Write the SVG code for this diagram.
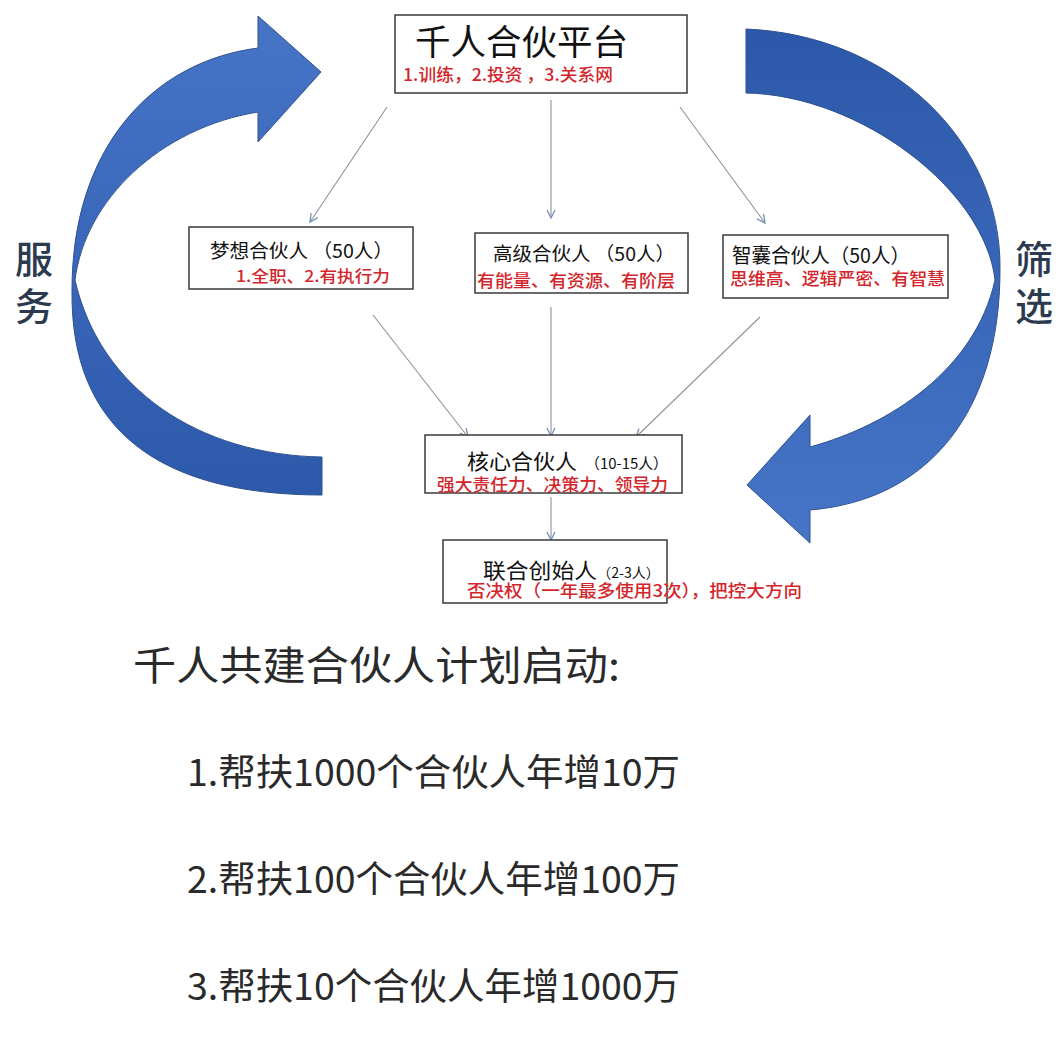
<svg xmlns="http://www.w3.org/2000/svg" width="1058" height="1048" viewBox="0 0 1058 1048">
<style>
.box{fill:#fff;stroke:#3a3a3a;stroke-width:1.5}
.t{font-family:"Noto Sans CJK SC","Noto Sans",sans-serif;fill:#111}
.r{font-family:"Noto Sans CJK SC","Noto Sans",sans-serif;fill:#d3262c;font-weight:500}
.side{font-family:"Noto Sans CJK SC","Noto Sans",sans-serif;fill:#2b3a4e;font-size:38px;text-anchor:middle;font-weight:500}
.big{font-family:"Noto Sans CJK SC","Noto Sans",sans-serif;fill:#2a2a2a}
.c{stroke:#8c939c;stroke-width:1.1;fill:none;marker-end:url(#ah)}
.band{stroke:#2f528f;stroke-width:1}
</style>
<defs>
<marker id="ah" viewBox="0 0 10 10" refX="9" refY="5" markerWidth="10" markerHeight="10" markerUnits="userSpaceOnUse" orient="auto">
<path d="M1,1 L9,5 L1,9" fill="none" stroke="#7391b3" stroke-width="1.3"/>
</marker>
<linearGradient id="gl" x1="0" y1="16" x2="0" y2="497" gradientUnits="userSpaceOnUse">
<stop offset="0" stop-color="#4674c6"/>
<stop offset="1" stop-color="#2d59ab"/>
</linearGradient>
<linearGradient id="gr" x1="0" y1="29" x2="0" y2="543" gradientUnits="userSpaceOnUse">
<stop offset="0" stop-color="#2c58a9"/>
<stop offset="1" stop-color="#4675c7"/>
</linearGradient>
</defs>
<rect width="1058" height="1048" fill="#fff"/>

<g id="arrow-service">
<path class="band" fill="url(#gl)" d="M258,48 C150,62 72,150 72,290 C70,430 160,495 322,495 L322,457 C200,455 100,390 75,280 C85,200 160,128 258,112 L258,142 L321,72 L258,16 Z"/>
<text class="side" x="34" y="273">服</text>
<text class="side" x="34" y="320">务</text>
</g>

<g id="arrow-filter">
<path class="band" fill="url(#gr)" d="M746,29 C890,35 1002,140 1000,270 C1000,410 930,500 810,510 L810,543 L747,485 L810,415 L810,447 C890,425 975,370 995,280 C985,190 860,95 746,93 Z"/>
<text class="side" x="1034" y="273">筛</text>
<text class="side" x="1034" y="320">选</text>
</g>

<g id="connectors">
<line class="c" x1="387" y1="107" x2="310" y2="222"/>
<line class="c" x1="551" y1="100" x2="551" y2="218"/>
<line class="c" x1="680" y1="107" x2="765" y2="223"/>
<line class="c" x1="373" y1="315" x2="468" y2="437"/>
<line class="c" x1="551" y1="307" x2="551" y2="436"/>
<line class="c" x1="760" y1="317" x2="636" y2="437"/>
<line class="c" x1="551" y1="497" x2="551" y2="540"/>
</g>

<g id="node-platform">
<rect class="box" x="395" y="15" width="292" height="78"/>
<text class="t" x="415" y="55" font-size="35" textLength="213" lengthAdjust="spacingAndGlyphs">千人合伙平台</text>
<text class="r" x="403" y="81" font-size="17" textLength="210" lengthAdjust="spacingAndGlyphs">1.训练，2.投资 ，3.关系网</text>
</g>

<g id="node-dream">
<rect class="box" x="189" y="227" width="224" height="62"/>
<text class="t" x="210" y="258" font-size="19" textLength="183" lengthAdjust="spacingAndGlyphs">梦想合伙人 （50人）</text>
<text class="r" x="236" y="282" font-size="16" textLength="154" lengthAdjust="spacingAndGlyphs">1.全职、2.有执行力</text>
</g>

<g id="node-senior">
<rect class="box" x="475" y="233" width="213" height="60"/>
<text class="t" x="493" y="261" font-size="19" textLength="182" lengthAdjust="spacingAndGlyphs">高级合伙人 （50人）</text>
<text class="r" x="477" y="287" font-size="17" textLength="198" lengthAdjust="spacingAndGlyphs">有能量、有资源、有阶层</text>
</g>

<g id="node-brain">
<rect class="box" x="723" y="235" width="225" height="63"/>
<text class="t" x="732" y="263" font-size="20" textLength="178" lengthAdjust="spacingAndGlyphs">智囊合伙人（50人）</text>
<text class="r" x="730" y="285" font-size="17" textLength="215" lengthAdjust="spacingAndGlyphs">思维高、逻辑严密、有智慧</text>
</g>

<g id="node-core">
<rect class="box" x="425" y="435" width="257" height="58"/>
<text class="t" x="467" y="469" font-size="21" textLength="110" lengthAdjust="spacingAndGlyphs">核心合伙人</text>
<text class="t" x="585" y="469" font-size="15" textLength="83" lengthAdjust="spacingAndGlyphs">（10-15人）</text>
<text class="r" x="437" y="491" font-size="17" textLength="231" lengthAdjust="spacingAndGlyphs">强大责任力、决策力、领导力</text>
</g>

<g id="node-founder">
<rect class="box" x="443" y="540" width="224" height="63"/>
<text class="t" x="483" y="578" font-size="21" textLength="114" lengthAdjust="spacingAndGlyphs">联合创始人</text>
<text class="t" x="597" y="578" font-size="14" textLength="63" lengthAdjust="spacingAndGlyphs">（2-3人）</text>
<text class="r" x="467" y="597" font-size="17" textLength="335" lengthAdjust="spacingAndGlyphs">否决权（一年最多使用3次），把控大方向</text>
</g>

<g id="plan">
<text class="big" x="133" y="680" font-size="40" textLength="487" lengthAdjust="spacingAndGlyphs">千人共建合伙人计划启动:</text>
<text class="big" x="187" y="786" font-size="37" textLength="493" lengthAdjust="spacingAndGlyphs">1.帮扶1000个合伙人年增10万</text>
<text class="big" x="187" y="893" font-size="37" textLength="493" lengthAdjust="spacingAndGlyphs">2.帮扶100个合伙人年增100万</text>
<text class="big" x="187" y="1000" font-size="37" textLength="493" lengthAdjust="spacingAndGlyphs">3.帮扶10个合伙人年增1000万</text>
</g>
</svg>
